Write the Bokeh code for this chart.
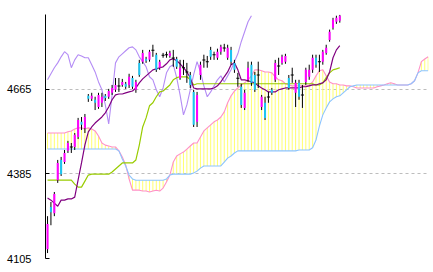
from bokeh.plotting import figure
from bokeh.models import FixedTicker, Range1d, ColumnDataSource
from bokeh.embed import file_html
from bokeh.resources import INLINE

# ---- data ----
open_ = [4136, 4275, 4255, 4364, 4431, 4424, 4461, 4474, 4474, 4507,
         4557, 4537, 4643, 4633, 4630, 4606, 4620, 4643, 4640, 4653,
         4663, 4676, 4679, 4683, 4679, 4702, 4663, 4752, 4756, 4765,
         4762, 4795, 4779, 4736, 4779, 4779, 4775, 4769, 4765, 4702,
         4736, 4722, 4712, 4656, 4557, 4712, 4762, 4756, 4795, 4779,
         4769, 4789, 4802, 4769, 4795, 4752, 4702, 4673, 4603, 4696,
         4746, 4712, 4712, 4606, 4620, 4640, 4663, 4696, 4742, 4752,
         4756, 4702, 4712, 4653, 4686, 4646, 4689, 4706, 4729, 4769,
         4756, 4756, 4785, 4828, 4868, 4888, 4891]
high = [4245, 4292, 4325, 4431, 4441, 4464, 4494, 4487, 4520, 4570,
        4573, 4583, 4649, 4653, 4640, 4653, 4653, 4649, 4666, 4679,
        4702, 4702, 4699, 4689, 4716, 4709, 4696, 4762, 4795, 4772,
        4795, 4812, 4785, 4762, 4785, 4789, 4792, 4795, 4772, 4762,
        4762, 4752, 4722, 4663, 4656, 4756, 4779, 4775, 4805, 4789,
        4799, 4812, 4815, 4812, 4805, 4762, 4719, 4683, 4663, 4756,
        4756, 4722, 4756, 4646, 4640, 4656, 4669, 4762, 4769, 4779,
        4782, 4712, 4736, 4696, 4696, 4679, 4736, 4746, 4779, 4779,
        4779, 4795, 4812, 4862, 4901, 4908, 4911]
low = [4123, 4215, 4245, 4355, 4378, 4418, 4454, 4454, 4464, 4500,
       4530, 4520, 4623, 4626, 4596, 4600, 4606, 4626, 4633, 4646,
       4656, 4656, 4673, 4666, 4669, 4666, 4653, 4706, 4749, 4752,
       4756, 4772, 4722, 4729, 4769, 4769, 4769, 4739, 4732, 4696,
       4712, 4686, 4669, 4540, 4540, 4696, 4736, 4736, 4762, 4762,
       4762, 4779, 4789, 4762, 4746, 4719, 4673, 4603, 4596, 4689,
       4676, 4656, 4669, 4596, 4563, 4620, 4646, 4689, 4712, 4746,
       4749, 4663, 4686, 4606, 4630, 4603, 4679, 4696, 4719, 4736,
       4722, 4746, 4779, 4822, 4862, 4881, 4885]
close = [4219, 4258, 4318, 4421, 4384, 4454, 4487, 4473, 4514, 4563,
         4547, 4573, 4633, 4643, 4620, 4646, 4640, 4636, 4659, 4669,
         4679, 4675, 4689, 4673, 4706, 4673, 4689, 4712, 4785, 4759,
         4789, 4792, 4729, 4756, 4776, 4778, 4785, 4768, 4739, 4736,
         4735, 4721, 4679, 4547, 4646, 4746, 4761, 4755, 4772, 4778,
         4789, 4805, 4801, 4802, 4756, 4729, 4701, 4613, 4653, 4736,
         4686, 4663, 4711, 4640, 4570, 4639, 4653, 4752, 4741, 4772,
         4775, 4669, 4711, 4686, 4640, 4645, 4729, 4729, 4769, 4746,
         4755, 4789, 4802, 4855, 4895, 4901, 4908]

tenkan = [4305, 4298, 4288, 4278, 4298, 4298, 4302, 4302, 4308, 4365,
          4421, 4481, 4524, 4540, 4553, 4563, 4573, 4587, 4606, 4630,
          4646, 4649, 4649, 4653, 4656, 4659, 4669, 4686, 4699, 4709,
          4719, 4729, 4732, 4736, 4739, 4749, 4762, 4766, 4759, 4749,
          4736, 4722, 4703, 4669, 4666, 4666, 4666, 4666, 4666, 4669,
          4676, 4689, 4706, 4722, 4746, 4752, 4729, 4696, 4696, 4693,
          4689, 4686, 4676, 4669, 4663, 4656, 4656, 4656, 4663, 4666,
          4669, 4669, 4669, 4669, 4669, 4673, 4673, 4676, 4679, 4679,
          4683, 4686, 4696, 4722, 4769, 4795, 4809]
kijun = [4364, 4364, 4364, 4364, 4364, 4364, 4364, 4364, 4351, 4341,
         4341, 4361, 4381, 4384, 4384, 4384, 4384, 4384, 4384, 4391,
         4401, 4411, 4421, 4421, 4421, 4421, 4431, 4480, 4540, 4570,
         4610, 4620, 4640, 4656, 4659, 4669, 4679, 4696, 4703, 4706,
         4706, 4706, 4696, 4679, 4683, 4683, 4683, 4683, 4683, 4683,
         4683, 4683, 4683, 4683, 4683, 4683, 4683, 4683, 4683, 4683,
         4683, 4683, 4683, 4683, 4683, 4683, 4683, 4683, 4683, 4683,
         4683, 4683, 4683, 4683, 4683, 4683, 4683, 4683, 4683, 4679,
         4679, 4686, 4703, 4719, 4729, 4732, 4736]
chikou = [4696, 4716, 4736, 4752, 4772, 4789, 4779, 4736, 4762, 4779,
          4775, 4769, 4769, 4746, 4722, 4689, 4663, 4613, 4550, 4646,
          4752, 4772, 4782, 4792, 4802, 4805, 4795, 4772, 4756, 4739,
          4706, 4696, 4663, 4640, 4669, 4719, 4739, 4746, 4703, 4646,
          4580, 4613, 4663, 4713, 4756, 4722, 4676, 4640, 4656, 4676,
          4696, 4709, 4689, 4709, 4729, 4756, 4782, 4822, 4855, 4888,
          4908]
senkou_a = [4520, 4520, 4520, 4520, 4520, 4520, 4524, 4527, 4533, 4537,
            4537, 4533, 4537, 4533, 4527, 4510, 4487, 4480, 4477, 4474,
            4474, 4461, 4441, 4414, 4368, 4331, 4331, 4331, 4328, 4328,
            4325, 4328, 4331, 4328, 4338, 4358, 4381, 4424, 4444, 4451,
            4457, 4467, 4477, 4487, 4487, 4507, 4527, 4537, 4547, 4557,
            4563, 4573, 4590, 4620, 4643, 4659, 4669, 4679, 4686, 4696,
            4709, 4729, 4729, 4726, 4722, 4722, 4719, 4706, 4696, 4693,
            4683, 4679, 4676, 4676, 4676, 4676, 4676, 4679, 4689, 4709,
            4726, 4729, 4709, 4689, 4683, 4683, 4679, 4679, 4676, 4676,
            4673, 4669, 4669, 4669, 4669, 4669, 4669, 4673, 4676, 4679,
            4683, 4686, 4683, 4679, 4679, 4679, 4679, 4683, 4693, 4719,
            4756, 4765, 4772]
senkou_b = [4467, 4467, 4467, 4467, 4467, 4467, 4467, 4467, 4467, 4467,
            4467, 4467, 4467, 4467, 4467, 4467, 4467, 4467, 4467, 4467,
            4467, 4461, 4434, 4411, 4381, 4368, 4364, 4364, 4364, 4364,
            4364, 4364, 4364, 4364, 4364, 4368, 4381, 4384, 4384, 4384,
            4384, 4384, 4384, 4388, 4394, 4404, 4411, 4411, 4411, 4411,
            4411, 4411, 4424, 4437, 4444, 4454, 4461, 4461, 4461, 4461,
            4461, 4461, 4461, 4461, 4461, 4461, 4461, 4461, 4461, 4461,
            4461, 4461, 4461, 4461, 4464, 4464, 4464, 4464, 4471, 4497,
            4543, 4580, 4603, 4623, 4633, 4640, 4643, 4653, 4663, 4673,
            4676, 4679, 4679, 4679, 4679, 4679, 4679, 4679, 4679, 4679,
            4679, 4679, 4679, 4679, 4679, 4679, 4679, 4683, 4693, 4719,
            4726, 4726, 4726]
y_ticks = [4105, 4385, 4665]

# ---- figure ----
p = figure(width=433, height=272, output_backend="svg", toolbar_location=None,
           x_range=Range1d(-0.6, 112.1), y_range=Range1d(4105, 4912),
           x_axis_location=None, y_axis_location="left",
           min_border_left=45, min_border_right=5,
           min_border_top=14, min_border_bottom=14)
p.outline_line_color = None
p.background_fill_color = "white"
p.border_fill_color = "white"
p.xgrid.visible = False
p.ygrid.ticker = FixedTicker(ticks=y_ticks)
p.ygrid.grid_line_color = "#BDBDBD"
p.ygrid.grid_line_dash = "3 3"
p.ygrid.grid_line_width = 1

ax = p.yaxis[0]
ax.ticker = FixedTicker(ticks=y_ticks)
ax.major_label_overrides = {t: str(t) for t in y_ticks}
ax.axis_line_color = "black"
ax.axis_line_width = 1
ax.major_tick_in = 4
ax.major_tick_out = 0
ax.major_tick_line_color = "black"
ax.minor_tick_line_color = None
ax.major_label_standoff = 14
ax.major_label_text_font = "Liberation Sans"
ax.major_label_text_font_size = "11px"
ax.major_label_text_color = "black"

# ---- cloud ----
cloud_x = list(range(len(senkou_a)))
p.segment(x0=cloud_x, y0=senkou_a, x1=cloud_x, y1=senkou_b,
          line_color="#FFFF70", line_width=1)
p.line(cloud_x, senkou_a, line_color="#FF90C8", line_width=1.1)
p.line(cloud_x, senkou_b, line_color="#8CC4FF", line_width=1.1)

# ---- lines ----
p.line(list(range(len(chikou))), chikou, line_color="#B48CF5", line_width=1.1)
p.line(list(range(len(kijun))), kijun, line_color="#99CC00", line_width=1.2)
p.line(list(range(len(tenkan))), tenkan, line_color="#800080", line_width=1.2)

# ---- candles ----
idx = list(range(len(close)))
p.segment(x0=idx, y0=low, x1=idx, y1=high, line_color="black", line_width=1)

up = [i for i in idx if close[i] - open_[i] > 3]
dn = [i for i in idx if open_[i] - close[i] > 3]
dj = [i for i in idx if abs(close[i] - open_[i]) <= 3]

src_up = ColumnDataSource(dict(x=up, top=[close[i] for i in up], bottom=[open_[i] for i in up]))
src_dn = ColumnDataSource(dict(x=dn, top=[open_[i] for i in dn], bottom=[close[i] for i in dn]))
src_dj = ColumnDataSource(dict(x=dj, y=[(open_[i] + close[i]) / 2 for i in dj]))

p.vbar(x="x", top="top", bottom="bottom", width=0.6, source=src_up,
       fill_color="#FF00FF", line_color=None)
p.vbar(x="x", top="top", bottom="bottom", width=0.6, source=src_dn,
       fill_color="#1CC6F2", line_color=None)
p.rect(x="x", y="y", width=0.9, height=1, height_units="screen", source=src_dj,
       fill_color="black", line_color=None)

open("out.html", "w").write(file_html(p, INLINE))
